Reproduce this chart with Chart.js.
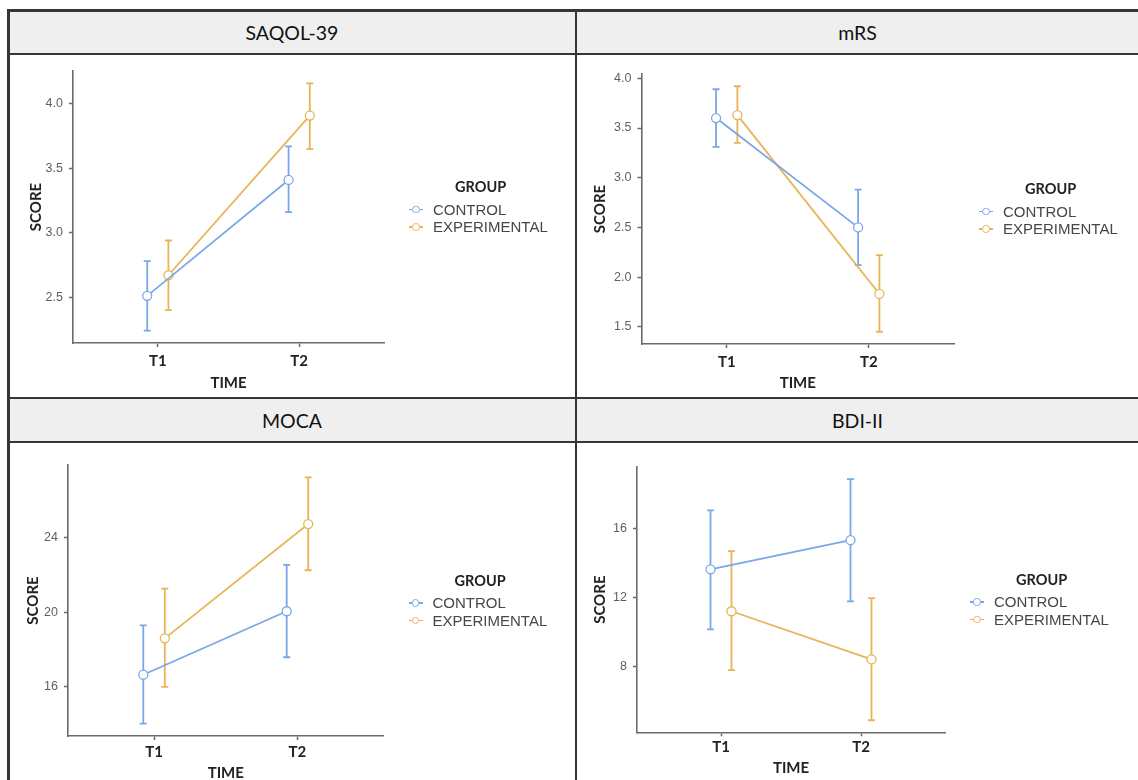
<!DOCTYPE html>
<html>
<head>
<meta charset="utf-8">
<script src="https://cdn.jsdelivr.net/npm/chart.js@4.4.1/dist/chart.umd.min.js"></script>
<style>
  body { margin: 0; background: #fff; width: 1138px; height: 780px; overflow: hidden; position: relative; font-family: 'Liberation Sans', Arial, sans-serif; }
  .rule { position: absolute; background: #363636; }
  .strip { position: absolute; background: #efefef; font-family: Lato, sans-serif; font-size: 19.5px; color: #111;
           display: flex; align-items: center; justify-content: center; }
  .panel { position: absolute; }
  .panel canvas { position: absolute; left: 0; top: 0; }
  .legend { position: absolute; color: #474747; }
  .lg-title { font-family: Lato, sans-serif; font-weight: bold; font-size: 14.5px; line-height: 18px; margin-left: 46px; margin-bottom: 4.75px; color: #222; }
  .lg-item { font-size: 15px; line-height: 17.5px; display: flex; align-items: center; white-space: nowrap; }
  .key { position: relative; width: 14px; height: 17.5px; margin-right: 10px; }
  .key .stub { position: absolute; left: 0; right: 0; top: 8px; height: 1.5px; }
  .key .dot { position: absolute; left: 3px; top: 4.75px; width: 5.5px; height: 5.5px; border: 1.25px solid; border-radius: 50%; background: #fff; }
</style>
</head>
<body>

<!-- frame lines and facet strips -->
<div class="strip" style="left:9px; top:11px; width:1129px; height:42px;" id="strip0"></div>
<div class="strip" style="left:9px; top:399px; width:1129px; height:42px;" id="strip1"></div>
<div class="rule" style="left:7px; top:9px; width:1131px; height:2.5px;"></div>
<div class="rule" style="left:7px; top:52.5px; width:1131px; height:2.5px;"></div>
<div class="rule" style="left:7px; top:396.5px; width:1131px; height:2.5px;"></div>
<div class="rule" style="left:7px; top:440.5px; width:1131px; height:2.5px;"></div>
<div class="rule" style="left:7px; top:9px; width:2.5px; height:771px;"></div>
<div class="rule" style="left:574.75px; top:9px; width:2.5px; height:771px;"></div>

<div class="panel" id="p0" style="left:10px; top:55px;"><canvas id="c0" width="565" height="341"></canvas></div>
<div class="panel" id="p1" style="left:578px; top:55px;"><canvas id="c1" width="560" height="341"></canvas></div>
<div class="panel" id="p2" style="left:10px; top:443px;"><canvas id="c2" width="565" height="345"></canvas></div>
<div class="panel" id="p3" style="left:578px; top:443px;"><canvas id="c3" width="560" height="345"></canvas></div>

<script>
// ---- data ----
const timeLabels = ['T1', 'T2'];
const groupNames = ['CONTROL', 'EXPERIMENTAL'];
const measureTitles = ['SAQOL-39', 'mRS', 'MOCA', 'BDI-II'];

// mean, lower and upper end of the error bar, T1 then T2
const saqolControl     = [2.51, 3.41];
const saqolControlLow  = [2.24, 3.16];
const saqolControlHigh = [2.78, 3.67];
const saqolExp         = [2.67, 3.91];
const saqolExpLow      = [2.40, 3.65];
const saqolExpHigh     = [2.94, 4.16];
const saqolTicks = [2.5, 3.0, 3.5, 4.0];

const mrsControl     = [3.60, 2.50];
const mrsControlLow  = [3.31, 2.12];
const mrsControlHigh = [3.89, 2.88];
const mrsExp         = [3.63, 1.83];
const mrsExpLow      = [3.35, 1.45];
const mrsExpHigh     = [3.92, 2.22];
const mrsTicks = [1.5, 2.0, 2.5, 3.0, 3.5, 4.0];

const mocaControl     = [16.63, 20.05];
const mocaControlLow  = [13.99, 17.57];
const mocaControlHigh = [19.29, 22.55];
const mocaExp         = [18.59, 24.75];
const mocaExpLow      = [15.97, 22.26];
const mocaExpHigh     = [21.27, 27.27];
const mocaTicks = [16, 20, 24];

const bdiControl     = [13.64, 15.34];
const bdiControlLow  = [10.14, 11.77];
const bdiControlHigh = [17.07, 18.90];
const bdiExp         = [11.20, 8.39];
const bdiExpLow      = [7.77, 4.85];
const bdiExpHigh     = [14.70, 11.96];
const bdiTicks = [8, 12, 16];

// ---- style ----
const groupColors = ['#7ba7ea', '#e9b458'];
const axisColor = '#6a6a6a';
const DODGE = 0.075;

document.getElementById('strip0').innerHTML =
  '<div style="position:absolute;left:0;width:566px;text-align:center">' + measureTitles[0] + '</div>' +
  '<div style="position:absolute;left:568px;width:561px;text-align:center">' + measureTitles[1] + '</div>';
document.getElementById('strip1').innerHTML =
  '<div style="position:absolute;left:0;width:566px;text-align:center">' + measureTitles[2] + '</div>' +
  '<div style="position:absolute;left:568px;width:561px;text-align:center">' + measureTitles[3] + '</div>';

// error bars drawn under the lines and points
const errorBars = {
  id: 'errorBars',
  beforeDatasetsDraw(chart) {
    const {ctx, scales: {x, y}} = chart;
    chart.data.datasets.forEach(ds => {
      ctx.save();
      ctx.strokeStyle = ds.borderColor;
      ctx.lineWidth = 1.8;
      ds.data.forEach((pt, j) => {
        const px = x.getPixelForValue(pt.x);
        const top = y.getPixelForValue(ds.errHigh[j]);
        const bot = y.getPixelForValue(ds.errLow[j]);
        ctx.beginPath();
        ctx.moveTo(px, top); ctx.lineTo(px, bot);
        ctx.moveTo(px - 3.5, top); ctx.lineTo(px + 3.5, top);
        ctx.moveTo(px - 3.5, bot); ctx.lineTo(px + 3.5, bot);
        ctx.stroke();
      });
      ctx.restore();
    });
  }
};

// html legend next to the plot, like the ggplot guide
const htmlLegend = {
  id: 'htmlLegend',
  afterUpdate(chart) {
    const holder = chart.canvas.parentNode;
    let box = holder.querySelector('.legend');
    if (!box) { box = document.createElement('div'); box.className = 'legend'; holder.appendChild(box); }
    const items = Chart.defaults.plugins.legend.labels.generateLabels(chart);
    let html = '<div class="lg-title">GROUP</div>';
    items.forEach(it => {
      html += '<div class="lg-item"><span class="key"><span class="stub" style="background:' + it.strokeStyle +
              '"></span><span class="dot" style="border-color:' + it.strokeStyle + '"></span></span>' + it.text + '</div>';
    });
    box.innerHTML = html;
    const area = chart.chartArea;
    const cy = (area.top + area.bottom) / 2;
    box.style.left = (area.right + 25) + 'px';
    box.style.top = (cy - 29) + 'px';
  }
};

function makeSeries(name, color, means, lows, highs, shift) {
  return {
    label: name,
    data: means.map((m, i) => ({x: i + 1 + shift, y: m})),
    errLow: lows,
    errHigh: highs,
    borderColor: color,
    backgroundColor: color,
    borderWidth: 1.8,
    pointRadius: 4.5,
    pointBorderWidth: 1.3,
    pointBackgroundColor: '#fff',
    pointBorderColor: color,
    tension: 0
  };
}

const panels = [
  { canvas: 'c0', pad: {left: 17, top: 16, right: 191, bottom: 0}, yW: 46, xH: 53, tickPad: 5, timePad: 4, dec: 1, ticks: saqolTicks,
    series: [[saqolControl, saqolControlLow, saqolControlHigh], [saqolExp, saqolExpLow, saqolExpHigh]] },
  { canvas: 'c1', pad: {left: 13, top: 19, right: 184, bottom: 0}, yW: 50.5, xH: 52, tickPad: 4.7, timePad: 3.7, dec: 1, ticks: mrsTicks,
    series: [[mrsControl, mrsControlLow, mrsControlHigh], [mrsExp, mrsExpLow, mrsExpHigh]] },
  { canvas: 'c2', pad: {left: 14, top: 22, right: 191.5, bottom: 0}, yW: 44, xH: 52, tickPad: 3.3, timePad: 5.7, dec: 0, ticks: mocaTicks,
    series: [[mocaControl, mocaControlLow, mocaControlHigh], [mocaExp, mocaExpLow, mocaExpHigh]] },
  { canvas: 'c3', pad: {left: 13, top: 24, right: 193, bottom: 0}, yW: 46, xH: 55.7, tickPad: 2, timePad: 10.7, dec: 0, ticks: bdiTicks,
    series: [[bdiControl, bdiControlLow, bdiControlHigh], [bdiExp, bdiExpLow, bdiExpHigh]] }
];

panels.forEach(p => {
  // ggplot style limits: data range plus 5% each side
  const lows = p.series.flatMap(s => s[1]);
  const highs = p.series.flatMap(s => s[2]);
  const lo = Math.min(...lows), hi = Math.max(...highs);
  const ext = (hi - lo) * 0.05;

  new Chart(document.getElementById(p.canvas), {
    type: 'line',
    data: {
      datasets: p.series.map((s, g) =>
        makeSeries(groupNames[g], groupColors[g], s[0], s[1], s[2], g === 0 ? -DODGE : DODGE))
    },
    options: {
      responsive: false,
      animation: false,
      layout: { padding: p.pad },
      plugins: { legend: { display: false }, tooltip: { enabled: false } },
      scales: {
        x: {
          type: 'linear', min: 0.4, max: 2.6,
          afterBuildTicks: s => { s.ticks = timeLabels.map((t, i) => ({value: i + 1})); },
          afterFit: s => { s.height = p.xH; },
          ticks: { callback: v => timeLabels[v - 1], color: '#222', padding: p.tickPad,
                   font: { family: 'Lato', weight: 'bold', size: 15 } },
          grid: { drawOnChartArea: false, drawTicks: true, tickLength: 4, color: axisColor, tickWidth: 1.5 },
          border: { display: true, color: axisColor, width: 1.6 },
          title: { display: true, text: 'TIME', color: '#222', padding: {top: 0, bottom: p.timePad},
                   font: { family: 'Lato', weight: 'bold', size: 15 } }
        },
        y: {
          type: 'linear', min: lo - ext, max: hi + ext,
          afterBuildTicks: s => { s.ticks = p.ticks.map(v => ({value: v})); },
          afterFit: s => { s.width = p.yW; },
          ticks: { callback: v => v.toFixed(p.dec), color: '#5f5f5f', padding: 6,
                   font: { family: 'Liberation Sans', size: 12.5 } },
          grid: { drawOnChartArea: false, drawTicks: true, tickLength: 4, color: axisColor, tickWidth: 1.5 },
          border: { display: true, color: axisColor, width: 1.6 },
          title: { display: true, text: 'SCORE', color: '#222', padding: {top: 0, bottom: 0},
                   font: { family: 'Lato', weight: 'bold', size: 15 } }
        }
      }
    },
    plugins: [errorBars, htmlLegend]
  });
});
</script>
</body>
</html>
